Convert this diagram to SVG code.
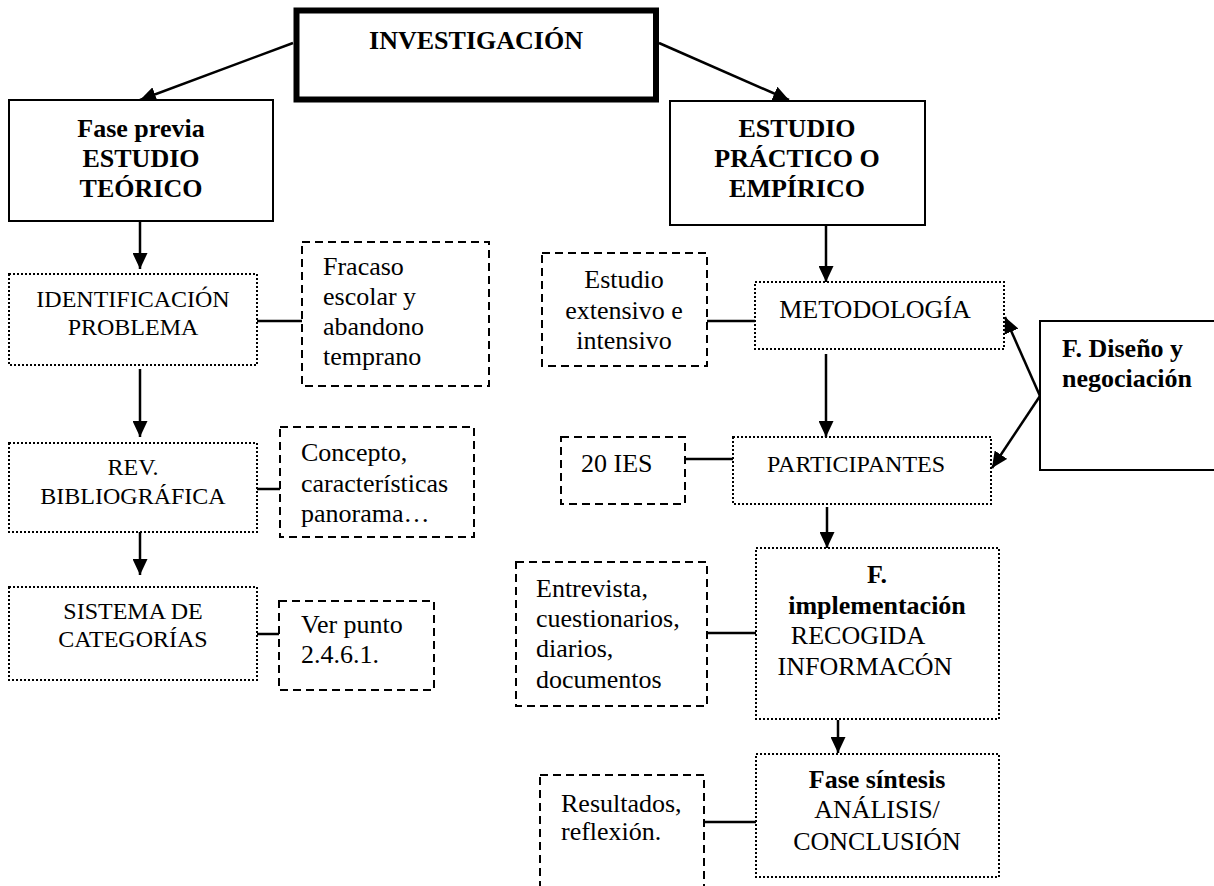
<svg xmlns="http://www.w3.org/2000/svg" width="1214" height="886" viewBox="0 0 1214 886" font-family="'Liberation Serif', 'DejaVu Serif', 'Times New Roman', serif">
  <defs>
    <marker id="arrow" markerUnits="userSpaceOnUse" markerWidth="16" markerHeight="15" refX="16" refY="7.5" orient="auto">
      <path d="M0,0 L16,7.5 L0,15 z" fill="#000"/>
    </marker>
    <style>
      text { font-family: "Liberation Serif", "DejaVu Serif", "Times New Roman", serif; fill: #000; }
      .r { font-size: 26px; }
      .rc { font-size: 24px; }
      .b { font-size: 26px; font-weight: bold; }
      .mid { text-anchor: middle; }
      .solid { fill: #fff; stroke: #000; stroke-width: 2; }
      .thick { fill: #fff; stroke: #000; stroke-width: 6; }
      .dotted { fill: #fff; stroke: #000; stroke-width: 2; stroke-dasharray: 2 2; }
      .dashed { fill: #fff; stroke: #000; stroke-width: 2; stroke-dasharray: 8 5; }
      .link { stroke: #000; stroke-width: 2.5; fill: none; }
      .arr { stroke: #000; stroke-width: 2.5; fill: none; marker-end: url(#arrow); }
    </style>
  </defs>

  <rect width="1214" height="886" fill="#fff"/>

  <!-- connectors -->
  <g id="connectors">
    <line class="arr" x1="293" y1="43" x2="140" y2="100"/>
    <line class="arr" x1="659" y1="43" x2="789" y2="100"/>
    <line class="arr" x1="140" y1="221" x2="140" y2="269"/>
    <line class="arr" x1="140" y1="369" x2="140" y2="437"/>
    <line class="arr" x1="140" y1="532" x2="140" y2="575"/>
    <line class="link" x1="257" y1="321" x2="302" y2="321"/>
    <line class="link" x1="257" y1="489" x2="280" y2="489"/>
    <line class="link" x1="257" y1="634" x2="279" y2="634"/>
    <line class="arr" x1="826" y1="225" x2="826" y2="282"/>
    <line class="link" x1="707" y1="321" x2="755" y2="321"/>
    <line class="arr" x1="826" y1="354" x2="826" y2="437"/>
    <line class="link" x1="685" y1="459" x2="733" y2="459"/>
    <line class="arr" x1="1040" y1="396" x2="1005" y2="317"/>
    <line class="arr" x1="1040" y1="396" x2="992" y2="468"/>
    <line class="arr" x1="827" y1="507" x2="827" y2="548"/>
    <line class="link" x1="707" y1="633" x2="756" y2="633"/>
    <line class="arr" x1="838" y1="720" x2="838" y2="753"/>
    <line class="link" x1="704" y1="822" x2="756" y2="822"/>
  </g>

  <g id="investigacion">
    <rect class="thick" x="296.5" y="10.5" width="359.5" height="89"/>
    <text class="b mid" x="476" y="49">INVESTIGACIÓN</text>
  </g>

  <g id="estudio-teorico">
    <rect class="solid" x="9" y="100" width="264" height="121"/>
    <text class="b mid" x="141" y="137">Fase previa</text>
    <text class="b mid" x="141" y="167">ESTUDIO</text>
    <text class="b mid" x="141" y="197">TEÓRICO</text>
  </g>

  <g id="estudio-practico">
    <rect class="solid" x="670" y="101" width="255" height="124"/>
    <text class="b mid" x="797" y="137">ESTUDIO</text>
    <text class="b mid" x="797" y="167">PRÁCTICO O</text>
    <text class="b mid" x="797" y="197">EMPÍRICO</text>
  </g>

  <g id="identificacion">
    <rect class="dotted" x="9" y="274" width="248" height="91"/>
    <text class="rc mid" x="133" y="307">IDENTIFICACIÓN</text>
    <text class="rc mid" x="133" y="335">PROBLEMA</text>
  </g>

  <g id="fracaso">
    <rect class="dashed" x="302" y="242" width="187" height="144"/>
    <text class="r" x="323" y="275">Fracaso</text>
    <text class="r" x="323" y="305">escolar y</text>
    <text class="r" x="323" y="335">abandono</text>
    <text class="r" x="323" y="365">temprano</text>
  </g>

  <g id="revision">
    <rect class="dotted" x="9" y="443" width="248" height="89"/>
    <text class="rc mid" x="133" y="475">REV.</text>
    <text class="rc mid" x="133" y="504">BIBLIOGRÁFICA</text>
  </g>

  <g id="concepto">
    <rect class="dashed" x="280" y="427" width="194" height="110"/>
    <text class="r" x="301" y="461">Concepto,</text>
    <text class="r" x="301" y="492">características</text>
    <text class="r" x="301" y="522">panorama…</text>
  </g>

  <g id="sistema">
    <rect class="dotted" x="9" y="587" width="248" height="93"/>
    <text class="rc mid" x="133" y="619">SISTEMA DE</text>
    <text class="rc mid" x="133" y="647">CATEGORÍAS</text>
  </g>

  <g id="ver-punto">
    <rect class="dashed" x="279" y="601" width="155" height="89"/>
    <text class="r" x="301" y="633">Ver punto</text>
    <text class="r" x="301" y="663">2.4.6.1.</text>
  </g>

  <g id="estudio-extensivo">
    <rect class="dashed" x="542" y="253" width="165" height="113"/>
    <text class="r mid" x="624" y="288">Estudio</text>
    <text class="r mid" x="624" y="319">extensivo e</text>
    <text class="r mid" x="624" y="349">intensivo</text>
  </g>

  <g id="metodologia">
    <rect class="dotted" x="755" y="282" width="249" height="67"/>
    <text class="r mid" x="875" y="318">METODOLOGÍA</text>
  </g>

  <g id="diseno">
    <rect class="solid" x="1040" y="321" width="200" height="149"/>
    <text class="b" x="1062" y="357">F. Diseño y</text>
    <text class="b" x="1062" y="387">negociación</text>
  </g>

  <g id="ies">
    <rect class="dashed" x="561" y="437" width="124" height="67"/>
    <text class="r" x="581" y="472">20 IES</text>
  </g>

  <g id="participantes">
    <rect class="dotted" x="733" y="437" width="258" height="67"/>
    <text class="rc mid" x="856" y="472">PARTICIPANTES</text>
  </g>

  <g id="implementacion">
    <rect class="dotted" x="756" y="548" width="243" height="171"/>
    <text class="b mid" x="877" y="583">F.</text>
    <text class="b mid" x="877" y="614">implementación</text>
    <text class="r mid" x="858" y="644">RECOGIDA</text>
    <text class="r mid" x="865" y="675">INFORMACÓN</text>
  </g>

  <g id="entrevista">
    <rect class="dashed" x="516" y="562" width="191" height="144"/>
    <text class="r" x="536" y="597">Entrevista,</text>
    <text class="r" x="536" y="627">cuestionarios,</text>
    <text class="r" x="536" y="657">diarios,</text>
    <text class="r" x="536" y="688">documentos</text>
  </g>

  <g id="sintesis">
    <rect class="dotted" x="756" y="754" width="243" height="123"/>
    <text class="b mid" x="877" y="788">Fase síntesis</text>
    <text class="r mid" x="877" y="818">ANÁLISIS/</text>
    <text class="r mid" x="877" y="850">CONCLUSIÓN</text>
  </g>

  <g id="resultados">
    <rect class="dashed" x="540" y="775" width="164" height="140"/>
    <text class="r" x="561" y="812">Resultados,</text>
    <text class="r" x="561" y="840">reflexión.</text>
  </g>
</svg>
